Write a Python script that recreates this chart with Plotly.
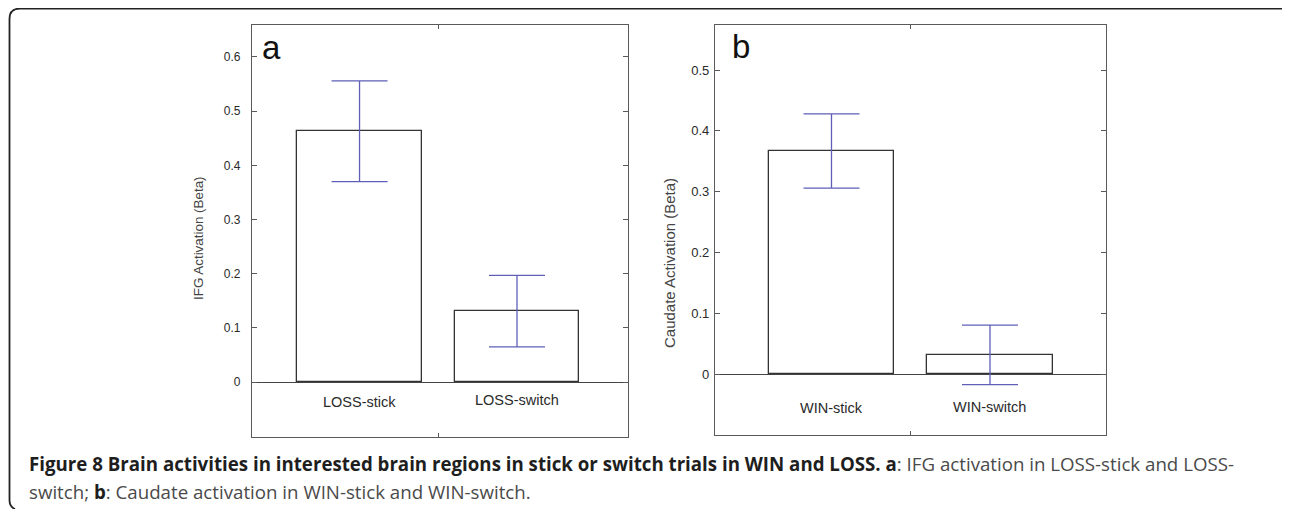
import plotly.graph_objects as go

# page body has an 8px margin, so the figure is laid out in screen pixels minus 8
OFF = 8
FW, FH = 1290 - OFF, 509 - OFF

# ---- data ----
cats_a = [1, 2]
labels_a = ["LOSS-stick", "LOSS-switch"]
values_a = [0.463, 0.131]
errors_a = [0.093, 0.066]

cats_b = [1, 2]
labels_b = ["WIN-stick", "WIN-switch"]
values_b = [0.367, 0.032]
errors_b = [0.061, 0.049]

yticks_a = [0, 0.1, 0.2, 0.3, 0.4, 0.5, 0.6]
yticks_b = [0, 0.1, 0.2, 0.3, 0.4, 0.5]

title_a = "IFG Activation (Beta)"
title_b = "Caudate Activation (Beta)"
caption1_bold = "Figure 8 Brain activities in interested brain regions in stick or switch trials in WIN and LOSS. a"
caption1_rest = ": IFG activation in LOSS-stick and LOSS-"
caption2_a = "switch; "
caption2_b = "b"
caption2_c = ": Caudate activation in WIN-stick and WIN-switch."


def px_x(p):
    return (p - OFF) / FW


def px_y(p):
    return 1 - (p - OFF) / FH


AX_COLOR = "#5a5a5a"
TXT = "#2a2a2a"
ERR = "#5f5fb8"
FONT = "Liberation Sans, Arial"

fig = go.Figure()

for cats, vals, errs, ax in [(cats_a, values_a, errors_a, ("x", "y")),
                             (cats_b, values_b, errors_b, ("x2", "y2"))]:
    fig.add_trace(go.Bar(
        x=cats, y=vals, width=0.79,
        marker=dict(color="white", line=dict(color="#333333", width=1.3)),
        error_y=dict(type="data", array=errs, visible=True, color=ERR,
                     thickness=1.3, width=28),
        xaxis=ax[0], yaxis=ax[1], showlegend=False,
    ))

common_x = dict(showline=True, linecolor=AX_COLOR, linewidth=1.3, mirror="ticks",
                ticks="inside", ticklen=4, tickcolor=AX_COLOR, tickvals=[1.5],
                showticklabels=False, showgrid=False, zeroline=False, fixedrange=True)
common_y = dict(showline=True, linecolor=AX_COLOR, linewidth=1.3, mirror="ticks",
                ticks="inside", ticklen=5, tickcolor=AX_COLOR, showgrid=False,
                zeroline=True, zerolinecolor="#444444", zerolinewidth=1.3,
                fixedrange=True)


def fmt(v):
    return "0" if v == 0 else f"{v:.1f}"


fig.update_layout(
    width=FW, height=FH,
    margin=dict(l=0, r=0, t=0, b=0),
    paper_bgcolor="white", plot_bgcolor="white",
    bargap=0,
    xaxis=dict(domain=[px_x(252), px_x(628)], range=[0.317, 2.705], anchor="y", **common_x),
    yaxis=dict(domain=[px_y(437), px_y(25)], range=[-0.1015, 0.659], anchor="x",
               tickvals=yticks_a, ticktext=[fmt(v) for v in yticks_a],
               tickfont=dict(family=FONT, size=12, color=TXT), ticklabelstandoff=8,
               **common_y),
    xaxis2=dict(domain=[px_x(715), px_x(1106)], range=[0.265, 2.732], anchor="y2", **common_x),
    yaxis2=dict(domain=[px_y(435), px_y(25)], range=[-0.0997, 0.574], anchor="x2",
                tickvals=yticks_b, ticktext=[fmt(v) for v in yticks_b],
                tickfont=dict(family=FONT, size=13, color=TXT), ticklabelstandoff=2,
                **common_y),
)

ann = []
lab_font = dict(family=FONT, size=14.5, color=TXT)
for c, l, yy in zip(cats_a, labels_a, [-0.037, -0.033]):
    ann.append(dict(x=c, y=yy, xref="x", yref="y", text=l, showarrow=False, font=lab_font,
                    xanchor="center", yanchor="middle"))
for c, l, yy in zip(cats_b, labels_b, [-0.056, -0.054]):
    ann.append(dict(x=c, y=yy, xref="x2", yref="y2", text=l, showarrow=False, font=lab_font,
                    xanchor="center", yanchor="middle"))

# panel letters
ann.append(dict(x=px_x(271), y=px_y(47), xref="paper", yref="paper", text="a", showarrow=False,
                xanchor="center", yanchor="middle",
                font=dict(family=FONT, size=33, color="#111111")))
ann.append(dict(x=px_x(741), y=px_y(46), xref="paper", yref="paper", text="b", showarrow=False,
                xanchor="center", yanchor="middle",
                font=dict(family=FONT, size=33, color="#111111")))

# axis titles
ann.append(dict(x=px_x(199), y=px_y(238), xref="paper", yref="paper", text=title_a,
                textangle=-90, showarrow=False, xanchor="center", yanchor="middle",
                font=dict(family=FONT, size=13.4, color="#444444")))
ann.append(dict(x=px_x(669), y=px_y(263), xref="paper", yref="paper", text=title_b,
                textangle=-90, showarrow=False, xanchor="center", yanchor="middle",
                font=dict(family=FONT, size=15, color="#444444")))

# caption
cap_font = dict(family="Open Sans, Lato", size=18.7, color="#4a4a4a")
ann.append(dict(x=px_x(27), y=px_y(463), xref="paper", yref="paper",
                text=f"<b><span style='color:#1e1e1e'>{caption1_bold}</span></b>{caption1_rest}",
                showarrow=False, xanchor="left", yanchor="middle", font=cap_font))
ann.append(dict(x=px_x(27), y=px_y(491), xref="paper", yref="paper",
                text=f"{caption2_a}<b><span style='color:#1e1e1e'>{caption2_b}</span></b>{caption2_c}",
                showarrow=False, xanchor="left", yanchor="middle", font=cap_font))

fig.update_layout(annotations=ann)

# outer frame with rounded corners
xl, yt = px_x(9.5), px_y(8.6)
path = (f"M {px_x(15)},{px_y(509)} Q {xl},{px_y(507)} {xl},{px_y(500)} "
        f"L {xl},{px_y(19)} Q {xl},{yt} {px_x(20)},{yt} "
        f"L {px_x(1284)},{yt} Q {px_x(1287)},{yt} {px_x(1289)},{px_y(11)}")
fig.add_shape(type="path", path=path, xref="paper", yref="paper",
              line=dict(color="#222222", width=1.8))

fig.write_html("out.html")
